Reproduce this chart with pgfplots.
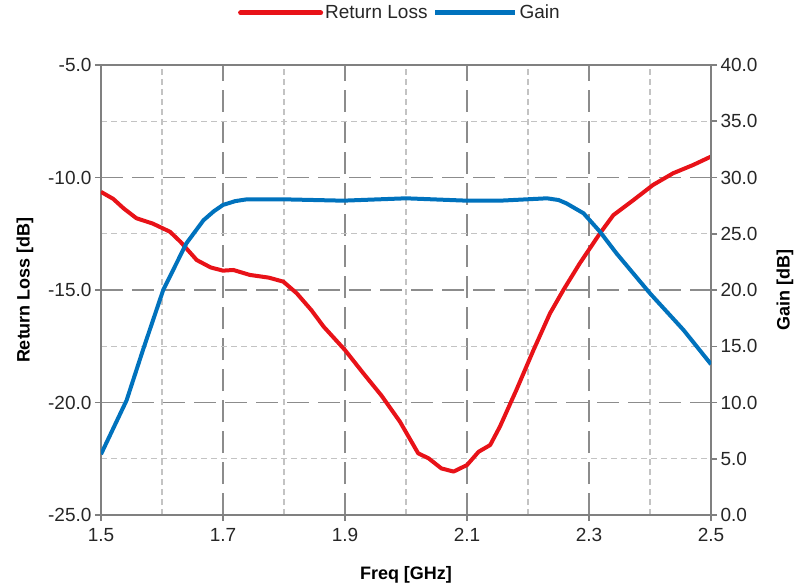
\documentclass[border=0pt]{standalone}
\usepackage{pgfplots}
\pgfplotsset{compat=1.18}
\usepackage{fontspec}
\setmainfont{Liberation Sans}

\definecolor{rlred}{RGB}{232,18,24}
\definecolor{gainblue}{RGB}{0,114,189}
\definecolor{axgray}{RGB}{128,128,128}
\definecolor{majgrid}{RGB}{140,140,140}
\definecolor{mingrid}{RGB}{195,195,195}

\pgfplotsset{
  commonstyle/.style={
    scale only axis,
    width=610pt, height=450pt,
    xmin=1.5, xmax=2.5,
    axis line style={axgray, line width=1.5pt},
    tick style={axgray, line width=1.5pt},
    major tick length=6pt,
    tick align=outside,
    ticklabel style={font=\fontsize{19}{19}\selectfont, text=black!85},
    label style={font=\fontsize{18}{18}\selectfont\bfseries},
    /pgf/number format/assume math mode=true,
    /pgf/number format/fixed,
    /pgf/number format/fixed zerofill,
    /pgf/number format/precision=1,
  }
}

\begin{document}
\begin{tikzpicture}
\useasboundingbox (-101pt,-72pt) rectangle (694pt,515pt);

% return loss (left axis, carries the grid)
\begin{axis}[
  commonstyle,
  ymin=-25, ymax=-5,
  xtick={1.5,1.7,...,2.5},
  minor xtick={1.6,1.8,2.0,2.2,2.4},
  ytick={-25,-20,-15,-10,-5},
  minor ytick={-22.5,-17.5,-12.5,-7.5},
  minor tick length=0pt,
  xtick pos=bottom, ytick pos=left,
  grid=both,
  major grid style={majgrid, line width=1.5pt, dash pattern=on 22pt off 9pt},
  minor grid style={mingrid, line width=1.1pt, dash pattern=on 6pt off 4pt},
  xlabel={Freq [GHz]},
  ylabel={Return Loss [dB]},
  xlabel style={at={(axis description cs:0.5,-0.1333)}, anchor=center},
  ylabel style={at={(axis description cs:-0.1246,0.5)}, anchor=center},
  xticklabel style={yshift=-4pt},
]
\addplot[rlred, line width=4pt, line join=round] coordinates {
(1.500,-10.64) (1.520,-10.95) (1.537,-11.37) (1.558,-11.81) (1.585,-12.05)
(1.613,-12.41) (1.630,-12.85) (1.657,-13.67) (1.680,-14.00) (1.700,-14.14)
(1.717,-14.11) (1.744,-14.33) (1.775,-14.45) (1.799,-14.63) (1.821,-15.15)
(1.845,-15.90) (1.865,-16.63) (1.900,-17.67) (1.930,-18.70) (1.960,-19.70)
(1.990,-20.85) (2.020,-22.26) (2.037,-22.48) (2.058,-22.93) (2.078,-23.07)
(2.100,-22.78) (2.119,-22.19) (2.138,-21.89) (2.154,-21.07) (2.181,-19.44)
(2.209,-17.67) (2.236,-16.04) (2.258,-15.00) (2.285,-13.81) (2.318,-12.48)
(2.340,-11.67) (2.373,-11.00) (2.405,-10.33) (2.438,-9.81) (2.471,-9.44)
(2.500,-9.07)
};
\end{axis}

% gain (right axis)
\begin{axis}[
  commonstyle,
  ymin=0, ymax=40,
  axis x line=none,
  axis y line*=right,
  ytick={0,5,...,40},
  ylabel={Gain [dB]},
  ylabel style={at={(axis description cs:1.1213,0.5)}, anchor=center},
  legend columns=2,
  legend style={draw=none, fill=none, at={(axis description cs:0.49,1.116)}, anchor=center,
    font=\fontsize{19}{19}\selectfont, text=black!85,
    /tikz/every even column/.append style={column sep=3pt}},
  legend image code/.code={\draw[#1, line width=5pt] (0pt,0pt) -- (80pt,0pt);},
]
\addlegendimage{rlred, line cap=round}
\addlegendentry{Return Loss}
\addplot[gainblue, line width=4pt, line join=round] coordinates {
(1.500,5.4) (1.542,10.2) (1.569,14.7) (1.602,20.0) (1.640,24.15) (1.668,26.2)
(1.685,27.0) (1.700,27.56) (1.720,27.9) (1.739,28.06) (1.799,28.06) (1.897,27.94)
(2.000,28.15) (2.100,27.94) (2.154,27.94) (2.231,28.15) (2.250,28.0) (2.263,27.7)
(2.291,26.82) (2.318,25.18) (2.345,23.26) (2.400,19.7) (2.455,16.44) (2.500,13.4)
};
\addlegendentry{Gain}
\end{axis}
\end{tikzpicture}
\end{document}
